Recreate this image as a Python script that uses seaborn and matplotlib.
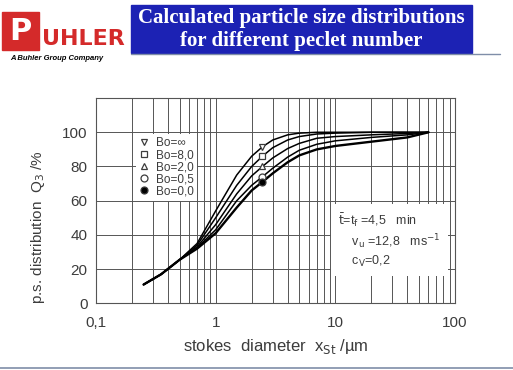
import numpy as np
import pandas as pd
import matplotlib
matplotlib.use("Agg")
import matplotlib.pyplot as plt
from matplotlib.lines import Line2D
from matplotlib.patches import Rectangle
import seaborn as sns

# curve points
x_pts = [0.25, 0.35, 0.5, 0.7, 1.0, 1.5, 2.0, 2.46, 3.0, 4.0, 5.0, 7.0, 10, 20, 40, 60]
bo_inf = [11, 17, 25.5, 35, 54, 75, 86, 91.5, 95.5, 98.5, 99.5, 100, 100, 100, 100, 100]
bo_8 = [11, 17, 25.5, 34, 50, 69, 80, 86, 91, 95.5, 97.5, 99, 99.5, 100, 100, 100]
bo_2 = [11, 17, 25.5, 33, 46, 64, 74.5, 80, 85, 90.5, 93.5, 96.5, 97.5, 98.5, 99.3, 100]
bo_05 = [11, 17, 25.5, 32.5, 43, 60, 69, 74, 79, 85.5, 89.5, 93, 95, 97, 98.5, 100]
bo_0 = [11, 17, 25.5, 32, 41, 56, 66, 71, 76, 82.5, 86.5, 90, 92, 94.5, 97, 100]

labels = ["Bo=\u221e", "Bo=8,0", "Bo=2,0", "Bo=0,5", "Bo=0,0"]
markers = ["v", "s", "^", "o", "o"]
marker_idx = 7  # where the symbols sit on the curves

x_ticks = [0.1, 1, 10, 100]
x_ticklabels = ["0,1", "1", "10", "100"]
y_ticks = [0, 20, 40, 60, 80, 100]

series = [bo_inf, bo_8, bo_2, bo_05, bo_0]
df = pd.DataFrame({
    "x": np.tile(x_pts, len(series)),
    "y": np.concatenate(series),
    "Bo": np.repeat(labels, len(x_pts)),
})
pts = df[df.index % len(x_pts) == marker_idx]

sns.set_style("white")
plt.rcParams["font.family"] = ["Liberation Sans", "DejaVu Sans"]
grey = "#3c3c3c"

fig = plt.figure(figsize=(5.13, 3.70), dpi=100)
ax = fig.add_axes([0.187, 0.18, 0.700, 0.555])

sns.lineplot(data=df, x="x", y="y", hue="Bo", palette=["black"] * 5,
             estimator=None, legend=False, ax=ax, linewidth=1.1)
ax.lines[-1].set_linewidth(1.7)

for (_, r), m, lab in zip(pts.iterrows(), markers, labels):
    fc = "black" if lab == "Bo=0,0" else "white"
    ax.plot(r["x"], r["y"], marker=m, ms=5, mfc=fc, mec=grey, mew=0.9, ls="none", zorder=5)

ax.set_xscale("log")
ax.set_xlim(0.1, 100)
ax.set_ylim(0, 120)
ax.set_xticks(x_ticks)
ax.set_xticklabels(x_ticklabels)
ax.set_yticks(y_ticks)
minor = [m * d for d in [0.1, 1, 10] for m in range(2, 10)]
ax.set_xticks(minor, minor=True)
ax.grid(True, which="both", axis="x", color="#555555", lw=0.7)
ax.grid(True, which="major", axis="y", color="#555555", lw=0.7)
ax.tick_params(length=0, labelsize=11, colors=grey)
ax.tick_params(axis="x", pad=9)
ax.tick_params(axis="y", pad=6)
for s in ax.spines.values():
    s.set_color("#555555")
    s.set_linewidth(0.8)

ax.set_xlabel("stokes  diameter  x$_{\\rm St}$ /\u00b5m", fontsize=12, color=grey, labelpad=5)
ax.set_ylabel("p.s. distribution  Q$_3$ /%", fontsize=11, color=grey)
ax.yaxis.set_label_coords(-0.135, 0.37)

handles = [Line2D([], [], marker=m, ls="none", ms=5,
                  mfc=("black" if lab == "Bo=0,0" else "white"), mec=grey, mew=0.9)
           for m, lab in zip(markers, labels)]
leg = ax.legend(handles, labels, loc="upper left", bbox_to_anchor=(0.095, 0.855),
                frameon=True, fontsize=8.5, handlelength=0.8, handletextpad=0.6,
                labelspacing=0.0, borderpad=0.3, labelcolor=grey)
leg.get_frame().set_facecolor("white")
leg.get_frame().set_edgecolor("none")
leg.get_frame().set_alpha(1)

ax.text(0.675, 0.45, "$\\bar{\\rm t}$=t$_{\\rm f}$ =4,5   min\n    v$_{\\rm u}$ =12,8   ms$^{-1}$\n    c$_{\\rm V}$=0,2",
        transform=ax.transAxes, fontsize=9, color=grey, va="top", linespacing=1.25,
        bbox=dict(facecolor="white", edgecolor="none", pad=5))

# header
fig.patches.append(Rectangle((131 / 513, 1 - 53 / 370), 341 / 513, 48 / 370,
                             transform=fig.transFigure, color="#1c22b4", zorder=0))
fig.text(301 / 513, 1 - 18 / 370, "Calculated particle size distributions", ha="center", va="center",
         color="white", fontsize=15, fontweight="bold", family="Liberation Serif")
fig.text(301 / 513, 1 - 41 / 370, "for different peclet number", ha="center", va="center",
         color="white", fontsize=15, fontweight="bold", family="Liberation Serif")
fig.add_artist(Line2D([131 / 513, 500 / 513], [1 - 53.5 / 370] * 2, color="#7f8ea8", lw=1))
fig.add_artist(Line2D([0, 1], [1 - 367.5 / 370] * 2, color="#7f8ea8", lw=1.2))

# logo
fig.patches.append(Rectangle((2 / 513, 1 - 50 / 370), 37 / 513, 38 / 370,
                             transform=fig.transFigure, color="#d42a2a", zorder=0))
fig.text(20 / 513, 1 - 31 / 370, "P", ha="center", va="center", color="white",
         fontsize=22, fontweight="bold", family="DejaVu Sans")
fig.text(42 / 513, 1 - 39 / 370, "UHLER", ha="left", va="center", color="#d42a2a",
         fontsize=16, fontweight="bold", family="DejaVu Sans")
fig.text(10 / 513, 1 - 58 / 370, "A Buhler Group Company", ha="left", va="center",
         color="black", fontsize=5.5, fontweight="bold", style="italic")

fig.savefig("out.png", dpi=100)
